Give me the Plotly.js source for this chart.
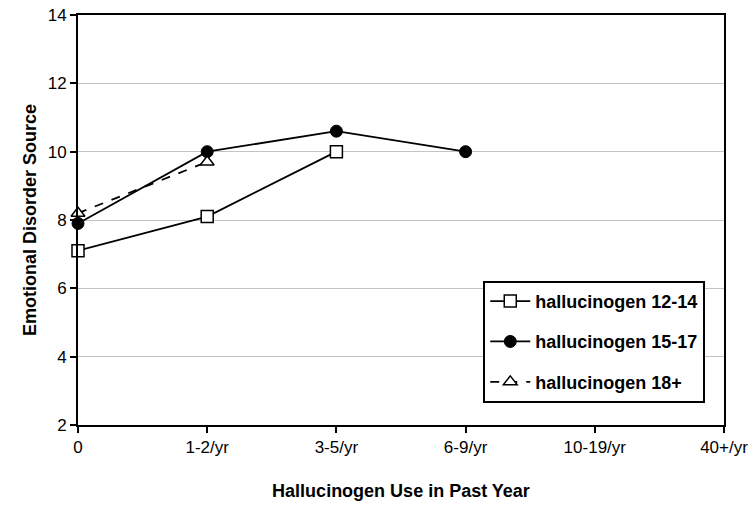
<!DOCTYPE html>
<html>
<head>
<meta charset="utf-8">
<script src="https://cdn.plot.ly/plotly-3.0.1.min.js"></script>
<style>html,body{margin:0;padding:0;background:#fff;}#chart{width:755px;height:506px;}</style>
</head>
<body>
<div id="chart"></div>
<script>
const categories = ["0", "1-2/yr", "3-5/yr", "6-9/yr", "10-19/yr", "40+/yr"];
const seriesNames = ["hallucinogen 12-14", "hallucinogen 15-17", "hallucinogen 18+"];
const values1214 = [7.1, 8.1, 10.0];
const values1517 = [7.9, 10.0, 10.6, 10.0];
const values18 = [8.2, 9.7];
const yTicks = [2, 4, 6, 8, 10, 12, 14];

const font = "Liberation Sans, Arial, sans-serif";

const traces = [
  {
    x: categories.slice(0, values1214.length), y: values1214, name: seriesNames[0],
    type: "scatter", mode: "lines+markers", legendgroup: "a", cliponaxis: false,
    line: {color: "#000", width: 1.8},
    marker: {symbol: "square", size: 12, color: "#fff", line: {color: "#000", width: 1.5}}
  },
  {
    x: categories.slice(0, values1517.length), y: values1517, name: seriesNames[1],
    type: "scatter", mode: "lines+markers", legendgroup: "b", cliponaxis: false,
    line: {color: "#000", width: 1.8},
    marker: {symbol: "circle", size: 12, color: "#000", line: {color: "#000", width: 1}}
  },
  {
    x: categories.slice(0, values18.length), y: values18, name: seriesNames[2],
    type: "scatter", mode: "lines+markers", legendgroup: "c", cliponaxis: false,
    line: {color: "#000", width: 1.8, dash: "dash"},
    marker: {symbol: "triangle-up", size: 12, color: "#fff", line: {color: "#000", width: 1.5}}
  }
];

const layout = {
  width: 755, height: 506,
  margin: {l: 78, r: 31, t: 15, b: 81},
  paper_bgcolor: "#fff", plot_bgcolor: "#fff",
  font: {family: font, color: "#000", size: 17},
  showlegend: true,
  legend: {
    x: 0.971, xanchor: "right", y: 0.054, yanchor: "bottom",
    bgcolor: "#fff", bordercolor: "#000", borderwidth: 2,
    font: {family: font, size: 18, color: "#000", weight: "bold"},
    traceorder: "grouped", tracegroupgap: 14, itemwidth: 40
  },
  xaxis: {
    type: "category", categoryorder: "array", categoryarray: categories,
    range: [0, 5], showgrid: false, zeroline: false,
    showline: true, linecolor: "#000", linewidth: 2, mirror: true,
    ticks: "outside", ticklen: 6, tickwidth: 2, tickcolor: "#000",
    tickfont: {family: font, size: 17, color: "#000"},
    title: {text: "Hallucinogen Use in Past Year", standoff: 28,
            font: {family: font, size: 18, color: "#000", weight: "bold"}},
    automargin: false, fixedrange: true
  },
  yaxis: {
    range: [2, 14], tickvals: yTicks, showgrid: true, gridcolor: "#c4c4c4", gridwidth: 1,
    zeroline: false, showline: true, linecolor: "#000", linewidth: 2, mirror: true,
    ticks: "outside", ticklen: 6, tickwidth: 2, tickcolor: "#000",
    tickfont: {family: font, size: 17, color: "#000"},
    title: {text: "Emotional Disorder Source", standoff: 6,
            font: {family: font, size: 18, color: "#000", weight: "bold"}},
    automargin: false, fixedrange: true
  }
};

Plotly.newPlot("chart", traces, layout, {displayModeBar: false, staticPlot: true});
</script>
</body>
</html>
